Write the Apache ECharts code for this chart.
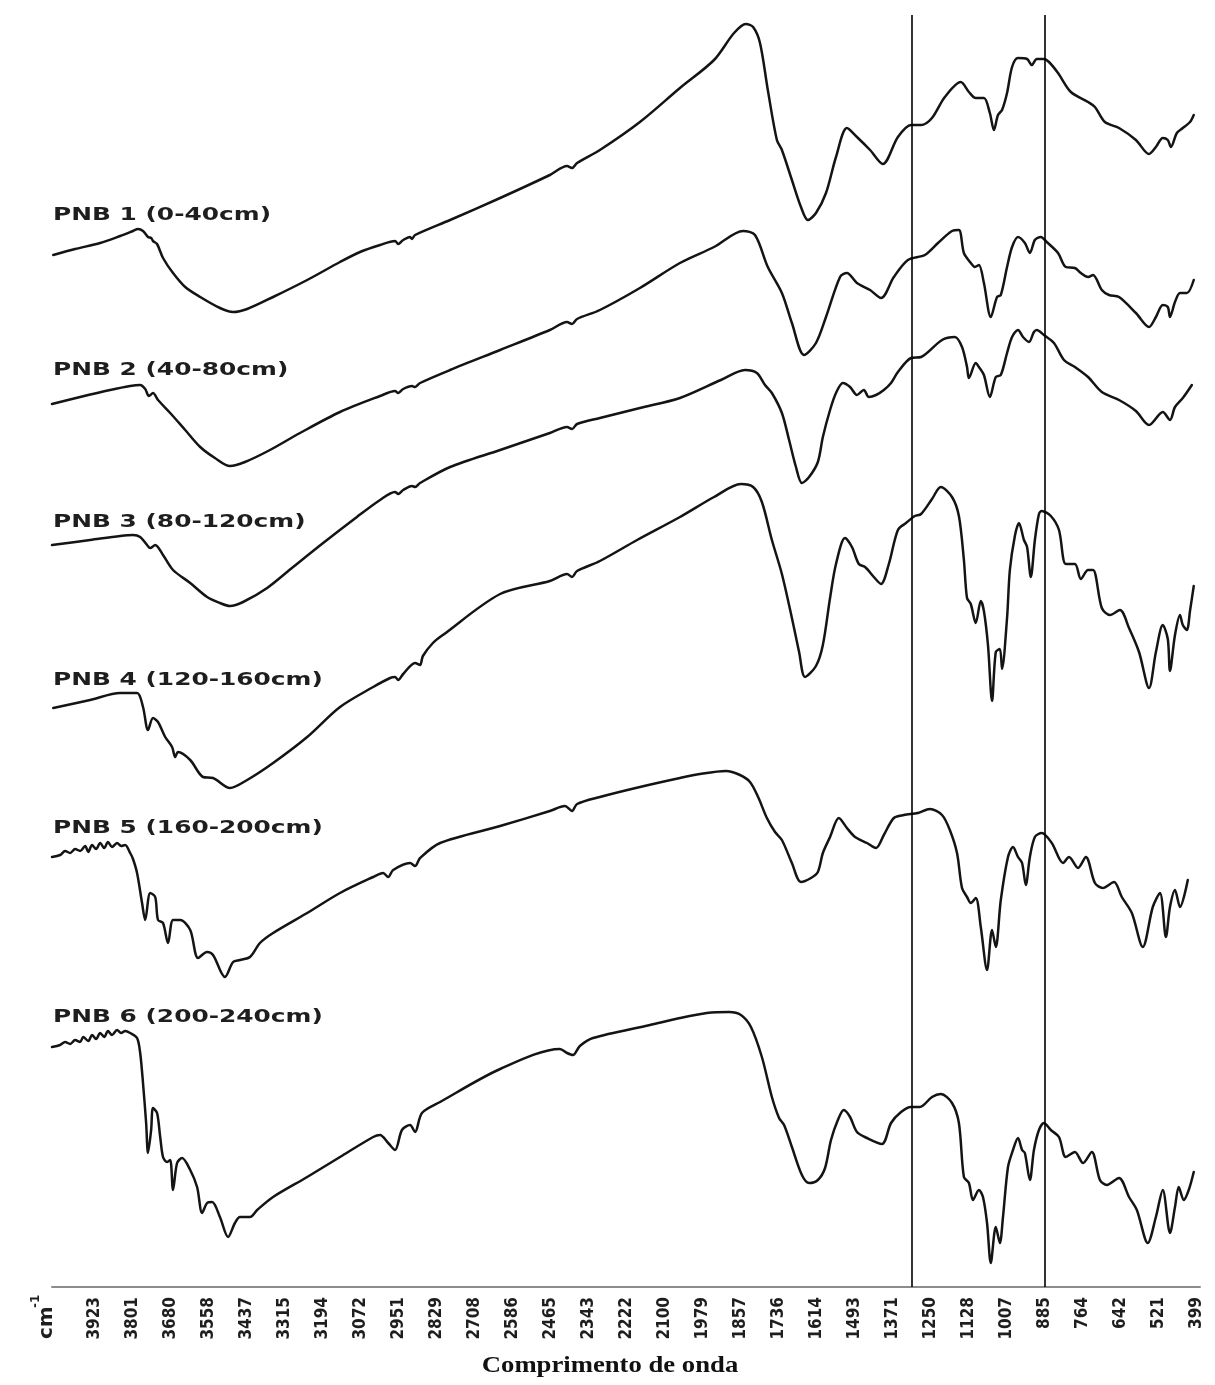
<!DOCTYPE html>
<html>
<head>
<meta charset="utf-8">
<script src="https://cdn.jsdelivr.net/npm/echarts@6/dist/echarts.min.js"></script>
<style>
  html, body { margin: 0; padding: 0; background: #ffffff; }
  #chart { width: 1215px; height: 1385px; }
</style>
</head>
<body>
<div id="chart"></div>
<script>
// FTIR spectra of six soil depth samples, stacked with vertical offsets.
// Each point is [wavenumber (cm-1), transmittance in arbitrary offset units].

const sampleLabels = ['PNB 1 (0-40cm)', 'PNB 2 (40-80cm)', 'PNB 3 (80-120cm)',
                      'PNB 4 (120-160cm)', 'PNB 5 (160-200cm)', 'PNB 6 (200-240cm)'];

const tickLabels = ['3923','3801','3680','3558','3437','3315','3194','3072','2951','2829',
                    '2708','2586','2465','2343','2222','2100','1979','1857','1736','1614',
                    '1493','1371','1250','1128','1007','885','764','642','521','399'];

// reference band positions (cm-1)
const bandMarks = [1310, 885];

const pnb1 = [[4056,1032],[3986,1038],[3906,1044],[3842,1051],[3801,1056],[3785,1058],[3769,1056],[3753,1050],[3743,1049],[3737,1046],[3724,1043],[3705,1029],[3673,1014],[3634,1000],[3586,990],[3523,979],[3481,975],[3436,978],[3353,990],[3244,1007],[3139,1025],[3075,1035],[3011,1042],[2963,1046],[2953,1043],[2937,1047],[2915,1050],[2909,1048],[2899,1052],[2787,1067],[2627,1089],[2468,1112],[2413,1121],[2397,1119],[2381,1124],[2308,1137],[2180,1165],[2052,1199],[1943,1227],[1879,1254],[1841,1263],[1818,1260],[1796,1244],[1771,1197],[1742,1147],[1726,1137],[1694,1107],[1665,1080],[1643,1067],[1617,1074],[1585,1094],[1553,1130],[1518,1159],[1486,1150],[1444,1137],[1403,1123],[1355,1150],[1313,1162],[1281,1162],[1246,1169],[1205,1190],[1154,1205],[1128,1195],[1106,1189],[1080,1189],[1061,1174],[1048,1157],[1035,1172],[1022,1177],[1006,1194],[990,1220],[971,1229],[942,1228],[927,1222],[911,1228],[888,1228],[872,1225],[843,1214],[802,1195],[747,1185],[725,1180],[693,1165],[648,1159],[594,1147],[552,1133],[530,1140],[508,1149],[492,1147],[482,1140],[463,1154],[444,1159],[421,1165],[409,1172]];

const pnb2 = [[4060,883],[3970,890],[3874,897],[3810,901],[3778,902],[3762,898],[3750,891],[3737,894],[3721,887],[3682,874],[3634,857],[3586,840],[3539,829],[3491,821],[3443,825],[3363,837],[3267,854],[3139,875],[3011,891],[2963,896],[2953,894],[2937,898],[2909,901],[2899,900],[2883,904],[2787,917],[2627,937],[2468,957],[2413,965],[2397,963],[2381,968],[2308,977],[2180,999],[2052,1024],[1943,1040],[1850,1056],[1812,1052],[1771,1020],[1726,994],[1694,964],[1655,932],[1617,944],[1585,970],[1540,1010],[1518,1014],[1486,1004],[1444,997],[1409,989],[1368,1010],[1323,1027],[1269,1032],[1227,1044],[1182,1056],[1160,1057],[1144,1034],[1122,1024],[1109,1020],[1096,1022],[1080,1004],[1058,970],[1038,990],[1026,992],[1006,1020],[990,1040],[971,1050],[949,1044],[933,1034],[917,1047],[898,1050],[879,1045],[843,1034],[818,1020],[789,1019],[770,1014],[747,1010],[731,1012],[703,997],[680,992],[648,990],[594,974],[552,960],[530,970],[508,982],[492,980],[485,970],[469,985],[453,994],[431,994],[409,1007]];

const pnb3 = [[4060,742],[3938,747],[3842,751],[3801,752],[3778,750],[3756,742],[3746,739],[3730,742],[3705,732],[3673,717],[3618,704],[3564,690],[3523,684],[3491,681],[3449,685],[3372,699],[3289,720],[3193,744],[3085,770],[3011,787],[2963,795],[2953,793],[2937,797],[2909,801],[2899,800],[2883,804],[2787,820],[2627,837],[2468,854],[2413,860],[2397,858],[2381,863],[2308,869],[2180,879],[2052,889],[1921,907],[1844,917],[1806,914],[1780,902],[1758,894],[1726,874],[1703,847],[1681,820],[1662,804],[1639,810],[1611,825],[1595,850],[1572,877],[1553,894],[1531,904],[1508,900],[1486,892],[1464,897],[1448,890],[1425,892],[1400,897],[1377,904],[1355,915],[1313,929],[1281,930],[1214,947],[1173,950],[1150,940],[1134,920],[1128,909],[1106,924],[1096,920],[1080,912],[1061,890],[1042,910],[1026,912],[1006,934],[990,950],[971,957],[955,950],[936,945],[920,955],[911,957],[888,952],[856,944],[824,927],[789,920],[747,910],[703,895],[648,887],[594,876],[552,862],[508,875],[485,867],[469,880],[444,889],[415,902]];

const pnb4 = [[4056,579],[3938,587],[3842,594],[3788,594],[3769,580],[3753,557],[3737,569],[3721,565],[3698,550],[3676,540],[3666,530],[3657,535],[3618,527],[3577,510],[3545,509],[3491,499],[3436,507],[3353,524],[3244,550],[3139,580],[3033,600],[2979,609],[2963,610],[2953,607],[2937,613],[2899,624],[2883,622],[2874,631],[2842,644],[2810,652],[2627,693],[2468,706],[2413,713],[2397,710],[2381,716],[2308,726],[2189,747],[2052,770],[1943,790],[1857,803],[1818,800],[1790,785],[1758,747],[1726,713],[1694,669],[1671,635],[1652,610],[1617,621],[1595,642],[1572,689],[1553,723],[1524,749],[1502,740],[1480,723],[1460,720],[1432,710],[1409,703],[1384,723],[1355,757],[1329,764],[1301,771],[1281,773],[1246,788],[1218,800],[1182,790],[1160,771],[1144,727],[1134,689],[1122,683],[1106,664],[1090,686],[1080,676],[1067,642],[1054,586],[1042,635],[1029,638],[1022,618],[1006,669],[997,717],[981,751],[968,764],[952,747],[942,740],[930,710],[917,747],[904,773],[895,776],[866,771],[840,757],[818,723],[789,723],[770,708],[747,717],[731,717],[703,679],[677,672],[645,677],[616,659],[584,635],[552,599],[530,635],[508,662],[492,648],[485,616],[469,652],[453,672],[444,662],[431,657],[421,676],[409,701]];

const pnb5 = [[4060,430],[4034,432],[4018,436],[4002,434],[3986,438],[3970,436],[3954,441],[3944,435],[3932,442],[3919,438],[3906,444],[3893,439],[3881,445],[3868,440],[3852,444],[3839,441],[3826,442],[3810,434],[3801,428],[3788,414],[3772,384],[3762,367],[3746,394],[3730,390],[3721,367],[3705,364],[3689,344],[3673,367],[3650,367],[3618,357],[3593,329],[3564,335],[3545,332],[3507,310],[3481,325],[3459,327],[3427,330],[3395,344],[3353,354],[3244,374],[3139,394],[3033,410],[3001,414],[2985,410],[2969,417],[2915,424],[2899,421],[2883,429],[2819,444],[2627,461],[2468,476],[2420,481],[2397,476],[2381,483],[2308,490],[2180,500],[2052,509],[1988,513],[1905,516],[1860,512],[1828,505],[1802,490],[1774,469],[1748,455],[1726,447],[1694,424],[1665,405],[1633,409],[1611,415],[1595,434],[1572,450],[1544,469],[1518,459],[1492,450],[1454,444],[1425,439],[1400,452],[1368,469],[1336,472],[1291,474],[1253,478],[1214,472],[1189,457],[1166,434],[1150,399],[1134,390],[1122,384],[1106,389],[1090,360],[1070,317],[1054,357],[1042,340],[1026,387],[1003,430],[987,440],[971,430],[958,424],[946,402],[933,430],[917,450],[895,454],[863,444],[827,424],[808,430],[779,419],[754,430],[725,404],[700,399],[664,405],[639,390],[607,374],[572,340],[540,380],[517,394],[498,350],[485,380],[469,397],[453,380],[428,407]];

const pnb6 = [[4060,240],[4034,242],[4018,245],[4002,243],[3986,247],[3970,245],[3960,250],[3944,246],[3932,252],[3919,248],[3906,254],[3893,250],[3881,256],[3868,252],[3852,257],[3839,254],[3826,256],[3810,254],[3788,249],[3778,234],[3769,204],[3759,164],[3753,134],[3743,157],[3737,179],[3724,174],[3714,150],[3705,130],[3692,125],[3682,127],[3673,97],[3660,124],[3644,129],[3618,117],[3596,100],[3580,74],[3564,84],[3548,85],[3523,70],[3497,50],[3475,64],[3459,70],[3427,70],[3404,77],[3353,90],[3244,110],[3139,130],[3033,150],[3011,152],[2985,144],[2963,137],[2941,157],[2915,162],[2899,155],[2877,174],[2819,185],[2627,218],[2436,238],[2413,234],[2394,232],[2372,241],[2330,249],[2148,262],[2052,269],[1966,274],[1895,275],[1857,272],[1825,260],[1790,230],[1758,190],[1735,169],[1719,162],[1694,140],[1662,112],[1639,104],[1611,107],[1588,119],[1569,147],[1547,167],[1528,177],[1508,170],[1486,155],[1454,149],[1406,143],[1377,164],[1345,175],[1313,180],[1285,180],[1246,190],[1218,193],[1182,184],[1160,164],[1144,110],[1128,104],[1115,87],[1096,97],[1083,90],[1070,64],[1058,24],[1042,60],[1029,44],[1019,70],[1003,120],[987,137],[971,149],[958,137],[949,134],[933,107],[920,137],[904,157],[888,164],[866,157],[840,150],[818,130],[789,135],[763,124],[735,135],[709,107],[687,102],[648,109],[616,90],[591,77],[556,44],[530,70],[508,97],[485,54],[469,80],[457,100],[441,87],[425,97],[409,115]];

const spectra = [pnb1, pnb2, pnb3, pnb4, pnb5, pnb6];
const labelRows = [215, 370, 522, 680, 828, 1017];

const chart = echarts.init(document.getElementById('chart'), null, { renderer: 'canvas' });

const lineColor = '#141414';

const series = spectra.map((data, i) => ({
  name: sampleLabels[i],
  type: 'line',
  data: data,
  showSymbol: false,
  symbol: 'none',
  smooth: 0.3,
  lineStyle: { color: lineColor, width: 2.5, join: 'round', cap: 'round' },
  silent: true,
  markLine: i === 0 ? {
    silent: true,
    symbol: ['none', 'none'],
    label: { show: false },
    lineStyle: { color: '#000000', width: 1.6, type: 'solid' },
    data: bandMarks.map(v => ({ xAxis: v }))
  } : undefined
}));

const labelGraphics = sampleLabels.map((txt, i) => ({
  type: 'text',
  x: 53,
  y: labelRows[i],
  scaleX: 1.38,
  style: {
    text: txt,
    font: 'bold 18px "DejaVu Sans", sans-serif',
    fill: '#1e1e1e',
    textAlign: 'left',
    textVerticalAlign: 'middle',
    align: 'left',
    verticalAlign: 'middle'
  }
}));

const option = {
  backgroundColor: '#ffffff',
  animation: false,
  grid: { left: 52, right: 15, top: 15, bottom: 98, containLabel: false },
  xAxis: {
    type: 'value',
    inverse: true,
    min: 389,
    max: 4060,
    axisLine: { show: true, lineStyle: { color: '#8c8c8c', width: 2 } },
    axisTick: { show: false },
    splitLine: { show: false },
    axisLabel: {
      customValues: tickLabels.map(Number),
      formatter: v => String(Math.round(v)),
      rotate: 90,
      margin: 10,
      color: '#1e1e1e',
      fontWeight: 'bold',
      fontSize: 17,
      fontFamily: '"Liberation Sans Narrow", "DejaVu Sans Condensed", sans-serif'
    }
  },
  yAxis: {
    type: 'value',
    min: 0,
    max: 1272,
    show: false,
    splitLine: { show: false }
  },
  series: series,
  graphic: [
    ...labelGraphics,
    {
      type: 'text',
      x: 610,
      y: 1366,
      scaleX: 1.16,
      style: {
        text: 'Comprimento de onda',
        font: 'bold 23px "Liberation Serif", serif',
        fill: '#111111',
        textAlign: 'center',
        textVerticalAlign: 'middle',
        align: 'center',
        verticalAlign: 'middle'
      }
    },
    {
      type: 'group',
      x: 47,
      y: 1339,
      rotation: Math.PI / 2,
      children: [
        {
          type: 'text',
          x: 0,
          y: 0,
          style: {
            text: 'cm',
            font: 'bold 20px "DejaVu Sans", sans-serif',
            fill: '#1e1e1e',
            textAlign: 'left', textVerticalAlign: 'middle',
            align: 'left', verticalAlign: 'middle'
          }
        },
        {
          type: 'text',
          x: 31,
          y: -11,
          style: {
            text: '-1',
            font: 'bold 12px "DejaVu Sans", sans-serif',
            fill: '#1e1e1e',
            textAlign: 'left', textVerticalAlign: 'middle',
            align: 'left', verticalAlign: 'middle'
          }
        }
      ]
    }
  ]
};

chart.setOption(option);
</script>
</body>
</html>
